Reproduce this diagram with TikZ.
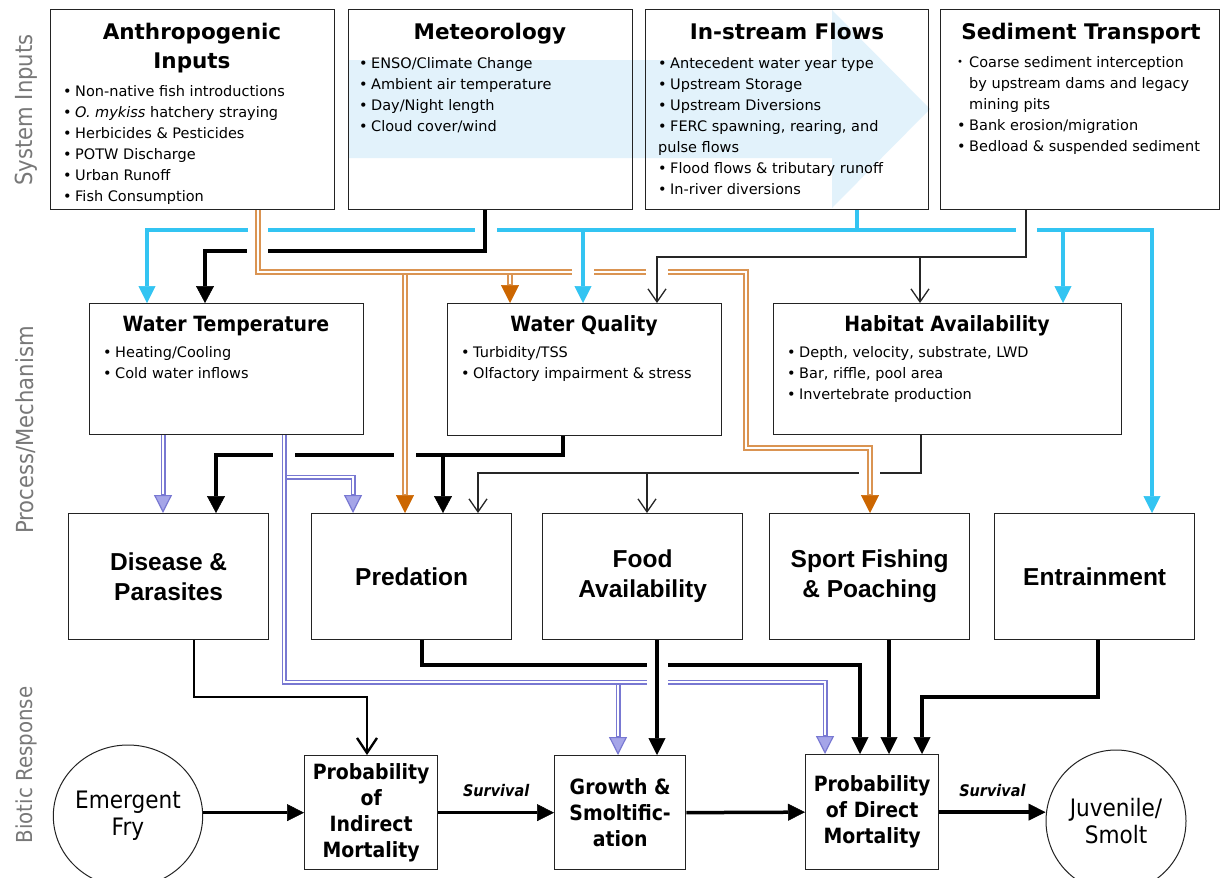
\documentclass[tikz,border=0pt]{standalone}
\usepackage{fontspec}
\usetikzlibrary{arrows.meta,shapes.geometric}
\newfontfamily\dvs{DejaVu Sans}
\newfontfamily\dvc{DejaVu Sans}[FakeStretch=0.9]
\newfontfamily\lsb{Liberation Sans}
\definecolor{skyc}{RGB}{51,196,242}
\definecolor{tanc}{RGB}{218,148,82}
\definecolor{rustc}{RGB}{204,102,0}
\definecolor{lavc}{RGB}{120,120,210}
\definecolor{lavfill}{RGB}{165,165,232}
\definecolor{edgec}{RGB}{35,35,35}
\definecolor{flowc}{RGB}{226,242,251}
\definecolor{sidec}{RGB}{120,120,120}
% bullet item, small bullet item, hanging continuation
\newcommand{\bl}{\strut\makebox[12pt][l]{•}}
\newcommand{\sbl}{\strut\makebox[12pt][l]{\raisebox{1.3pt}{\scalebox{0.7}{•}}}}
\newcommand{\hg}{\strut\hspace*{12pt}}
\begin{document}
\begin{tikzpicture}[x=1pt,y=-1pt,
  panel/.style={draw=edgec, line width=1.3pt, rectangle, inner sep=0pt, anchor=north west},
  toptitle/.style={font=\dvs\bfseries\fontsize{21.5}{29}\selectfont, inner sep=0pt, align=center},
  midtitle/.style={font=\dvc\bfseries\fontsize{21}{25}\selectfont, inner sep=0pt, anchor=base},
  bullets/.style={font=\dvs\fontsize{14.5}{21}\selectfont, inner sep=0pt, align=left, anchor=north west},
  factor/.style={panel, font=\lsb\bfseries\fontsize{24.5}{30}\selectfont, align=center, minimum width=200pt, minimum height=126pt},
  outcome/.style={panel, font=\dvc\bfseries\fontsize{21}{26}\selectfont, align=center},
  stage/.style={ellipse, draw=edgec, line width=1pt, inner sep=0pt, minimum width=140pt, minimum height=142pt, font=\dvc\fontsize{24}{27}\selectfont, align=center},
  side/.style={font=\dvc\fontsize{23.5}{28}\selectfont, text=sidec, rotate=90, inner sep=0pt},
  surv/.style={font=\dvc\bfseries\itshape\fontsize{16}{18}\selectfont, inner sep=0pt},
  gapfill/.style={fill=white},
  cy/.style={draw=skyc, line width=4pt, -{Triangle[length=17pt,width=17pt,line width=0.5pt]}},
  thk/.style={draw=black, line width=4pt, -{Triangle[length=17pt,width=18pt,line width=0.5pt]}},
  thk2/.style={draw=black, line width=3.5pt, -{Triangle[length=17pt,width=17pt,line width=0.5pt]}},
  thinarr/.style={draw=black!85, line width=1.3pt, -{Straight Barb[length=13pt,width=18pt]}},
  medarr/.style={draw=black, line width=2.3pt, -{Straight Barb[length=15pt,width=20pt]}},
  dblo/.style={draw=tanc, line width=5.6pt, -{Triangle[length=18pt,width=18pt,line width=0.5pt,color=rustc,fill=rustc]},
    postaction={draw=white, line width=1.8pt, -, shorten >=19pt}},
  dblp/.style={draw=lavc, line width=5pt, -{Triangle[length=18pt,width=18pt,line width=1.2pt,color=lavc,fill=lavfill]},
    postaction={draw=white, line width=1.8pt, -, shorten >=19pt}}
]
\fill[white] (0,0) rectangle (1221,878);
\useasboundingbox (0,0) rectangle (1221,878);

% pale flow arrow behind the meteorology and in-stream panels
\fill[flowc] (349,60) -- (832,60) -- (832,10) -- (930,109) -- (832,208) -- (832,158) -- (349,158) -- cycle;

% row labels
\node[side] (sideA) at (26,110) {System Inputs};
\node[side] (sideB) at (26,430) {Process/Mechanism};
\node[side, font=\dvc\fontsize{22}{26}\selectfont] (sideC) at (26,765) {Biotic Response};

% system inputs
\node[panel, minimum width=284pt, minimum height=200pt] (anth) at (50,9) {};
\node[panel, minimum width=284pt, minimum height=200pt] (met) at (348,9) {};
\node[panel, minimum width=283pt, minimum height=200pt] (inst) at (645,9) {};
\node[panel, minimum width=279pt, minimum height=200pt] (sed) at (940,9) {};

\node[toptitle, anchor=north] (anthT) at (192,18.7) {\strut Anthropogenic\\\strut Inputs};
\node[toptitle, anchor=base] (metT) at (490,39) {Meteorology};
\node[toptitle, anchor=base] (instT) at (787,39) {In-stream Flows};
\node[toptitle, anchor=base] (sedT) at (1081,39) {Sediment Transport};

\node[bullets] (anthB) at (63,81.3) {\bl Non-native fish introductions\\\bl \textit{O. mykiss} hatchery straying\\\bl Herbicides \& Pesticides\\\bl POTW Discharge\\\bl Urban Runoff\\\bl Fish Consumption};
\node[bullets] (metB) at (359,53.3) {\bl ENSO/Climate Change\\\bl Ambient air temperature\\\bl Day/Night length\\\bl Cloud cover/wind};
\node[bullets] (instB) at (658,53.3) {\bl Antecedent water year type\\\bl Upstream Storage\\\bl Upstream Diversions\\\bl FERC spawning, rearing, and\\\strut pulse flows\\\bl Flood flows \& tributary runoff\\\bl In-river diversions};
\node[bullets] (sedB) at (957,52.3) {\sbl Coarse sediment interception\\\hg by upstream dams and legacy\\\hg mining pits\\\bl Bank erosion/migration\\\bl Bedload \& suspended sediment};

% processes and mechanisms
\node[panel, minimum width=274pt, minimum height=131pt] (wt) at (89,303) {};
\node[panel, minimum width=274pt, minimum height=132pt] (wq) at (447,303) {};
\node[panel, minimum width=348pt, minimum height=131pt] (hab) at (773,303) {};

\node[midtitle] (wtT) at (226,331) {Water Temperature};
\node[midtitle] (wqT) at (584,331) {Water Quality};
\node[midtitle] (habT) at (947,331) {Habitat Availability};

\node[bullets] (wtB) at (103,342.3) {\bl Heating/Cooling\\\bl Cold water inflows};
\node[bullets] (wqB) at (461,342.3) {\bl Turbidity/TSS\\\bl Olfactory impairment \& stress};
\node[bullets] (habB) at (787,342.3) {\bl Depth, velocity, substrate, LWD\\\bl Bar, riffle, pool area\\\bl Invertebrate production};

\node[factor] (dis) at (68,513) {Disease \&\\Parasites};
\node[factor] (pred) at (311,513) {Predation};
\node[factor] (food) at (542,513) {Food\\Availability};
\node[factor] (sport) at (769,513) {Sport Fishing\\\& Poaching};
\node[factor] (ent) at (994,513) {Entrainment};

% biotic response
\node[stage] (fry) at (128,816) {Emergent\\Fry};
\node[outcome, minimum width=133pt, minimum height=114pt] (pind) at (304,755) {Probability\\of\\Indirect\\Mortality};
\node[outcome, minimum width=131pt, minimum height=114pt] (grow) at (554,755) {Growth \&\\Smoltific-\\ation};
\node[outcome, minimum width=133pt, minimum height=115pt] (pdir) at (805,754) {Probability\\of Direct\\Mortality};
\node[stage] (juv) at (1116,821) {Juvenile/\\Smolt};

% in-stream flows bus
\draw[cy] (inst.south -| 857,0) -- (857,230) -- (147,230) -- (wt.north -| 147,0);
\draw[cy] (inst.south -| 857,0) -- (857,230) -- (1063,230) -- (hab.north -| 1063,0);
\draw[cy] (inst.south -| 857,0) -- (857,230) -- (1152,230) -- (ent.north -| 1152,0);
\fill[gapfill] (248,225) rectangle (268,235);
\fill[gapfill] (475,225) rectangle (497,235);
\fill[gapfill] (1016,225) rectangle (1037,235);

% meteorology
\draw[thk] (met.south -| 485,0) -- (485,251) -- (205,251) -- (wt.north -| 205,0);
\fill[gapfill] (247,246) rectangle (268,256);

% water quality
\draw[thk] (wq.south -| 563,0) -- (563,455) -- (216,455) -- (dis.north -| 216,0);
\draw[thk] (wq.south -| 563,0) -- (563,455) -- (443,455) -- (pred.north -| 443,0);
\fill[gapfill] (273,450) rectangle (295,460);
\fill[gapfill] (394,450) rectangle (416,460);

% habitat availability
\draw[thinarr] (hab.south -| 921,0) -- (921,473) -- (478,473) -- (pred.north -| 478,0);
\draw[thinarr] (hab.south -| 921,0) -- (921,473) -- (647,473) -- (food.north -| 647,0);
\fill[gapfill] (859,468) rectangle (880,478);

% anthropogenic inputs
\draw[dblo] (anth.south -| 258,0) -- (258,272) -- (405,272) -- (pred.north -| 405,0);
\draw[dblo] (anth.south -| 258,0) -- (258,272) -- (510,272) -- (wq.north -| 510,0);
\draw[dblo] (anth.south -| 258,0) -- (258,272) -- (746,272) -- (746,448) -- (870,448) -- (sport.north -| 870,0);
\fill[gapfill] (572,266) rectangle (594,278);
\fill[gapfill] (646,266) rectangle (668,278);

\draw[cy] (inst.south -| 857,0) -- (857,230) -- (583,230) -- (wq.north -| 583,0);

% sediment transport
\draw[thinarr] (sed.south -| 1026,0) -- (1026,257) -- (657,257) -- (wq.north -| 657,0);
\draw[thinarr] (sed.south -| 1026,0) -- (1026,257) -- (920,257) -- (hab.north -| 920,0);

% water temperature
\draw[dblp] (wt.south -| 163,0) -- (dis.north -| 163,0);
\draw[dblp] (wt.south -| 284,0) -- (284,477) -- (353,477) -- (pred.north -| 353,0);
\draw[dblp] (wt.south -| 284,0) -- (284,682) -- (618,682) -- (grow.north -| 618,0);
\draw[dblp] (wt.south -| 284,0) -- (284,682) -- (825,682) -- (pdir.north -| 825,0);

% factors to biotic response
\draw[thk2] (pred.south -| 422,0) -- (422,665) -- (860,665) -- (pdir.north -| 860,0);
\fill[gapfill] (647,659) rectangle (668,688);
\draw[thk2] (food.south -| 657,0) -- (grow.north -| 657,0);
\draw[thk2] (sport.south -| 889,0) -- (pdir.north -| 889,0);
\draw[thk2] (ent.south -| 1098,0) -- (1098,697) -- (922,697) -- (pdir.north -| 922,0);
\draw[medarr] (dis.south -| 194,0) -- (194,697) -- (367,697) -- (pind.north -| 367,0);

% life-stage chain
\draw[thk2] (fry.east |- pind.west) -- (pind.west);
\draw[thk2] (pind.east) -- node[surv, midway, above=14pt] (sv1) {Survival} (grow.west);
\draw[thk2] (grow.east) -- (pdir.west);
\draw[thk2] (pdir.east) -- node[surv, midway, above=14pt] (sv2) {Survival} (juv.west |- pdir.east);
\end{tikzpicture}
\end{document}
